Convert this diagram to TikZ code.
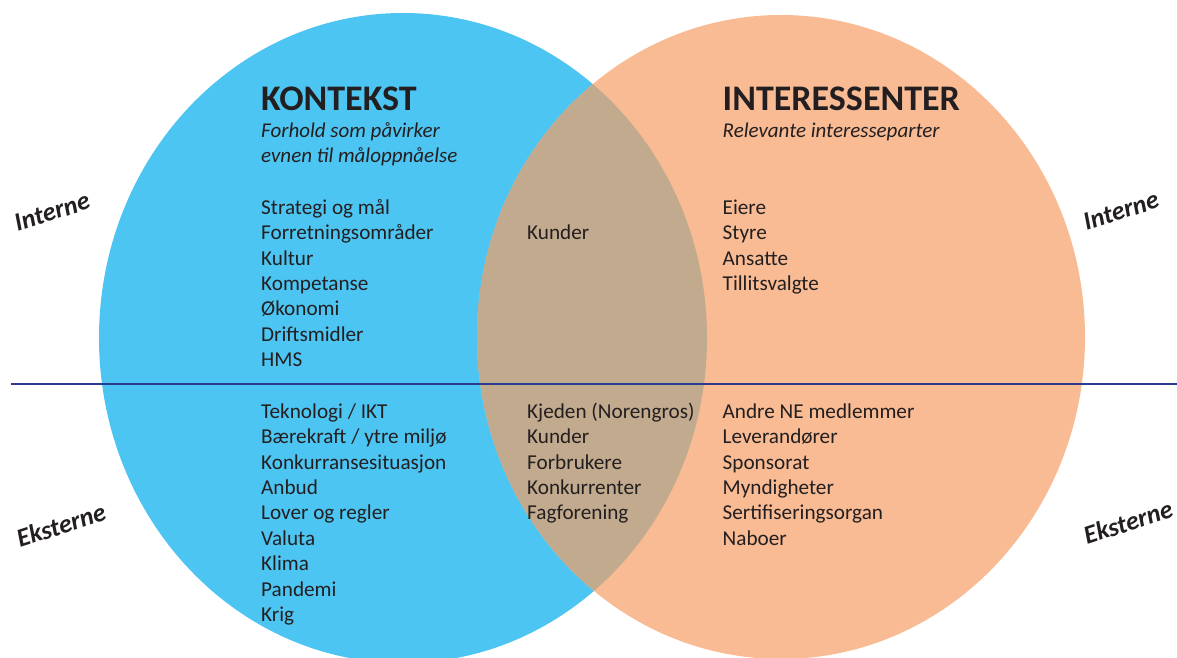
\documentclass[tikz,border=0pt]{standalone}
\usepackage{fontspec}
\setmainfont{Carlito}
\definecolor{kontekstblue}{HTML}{4DC5F2}
\definecolor{interessentorange}{HTML}{F8BB94}
\definecolor{overlapbrown}{HTML}{C2AA8E}
\definecolor{skillelinje}{HTML}{2B3A8F}
\definecolor{tekstgraa}{HTML}{231F20}
\begin{document}
\begin{tikzpicture}[x=1pt,y=-1pt,
	item/.style={anchor=base west,inner sep=0pt,text=tekstgraa,font=\fontsize{21.2}{25}\selectfont},
	heading/.style={item,font=\fontsize{36}{40}\selectfont\bfseries},
	subtitle/.style={item,font=\fontsize{21}{25}\selectfont\itshape},
	sidelabel/.style={inner sep=0pt,text=tekstgraa,rotate=18,font=\fontsize{26}{30}\selectfont\bfseries\itshape}]
	\useasboundingbox (0,0) rectangle (1177,658);
	% sirkler
	\fill[kontekstblue] (403,338) ellipse [x radius=304pt,y radius=325pt];
	\fill[interessentorange] (781,337) ellipse [x radius=304pt,y radius=322pt];
	\begin{scope}
		\clip (403,338) ellipse [x radius=304pt,y radius=325pt];
		\fill[overlapbrown] (781,337) ellipse [x radius=304pt,y radius=322pt];
	\end{scope}
	% skillelinje interne/eksterne
	\coordinate (linjestart) at (11,384);
	\coordinate (linjeslutt) at (1177,384);
	\draw[skillelinje,line width=2.5pt] (linjestart)--(linjeslutt);
	% overskrifter
	\node[heading] (kontekst) at (261,111) {KONTEKST};
	\node[subtitle] (kontekst-sub1) at (261,137.3) {Forhold som påvirker};
	\node[subtitle] (kontekst-sub2) at (261,162.6) {evnen til måloppnåelse};
	\node[heading] (interessenter) at (722.5,111) {INTERESSENTER};
	\node[subtitle] (interessenter-sub) at (722.5,137.3) {Relevante interesseparter};
	% interne
	\foreach \txt [count=\i from 0] in {Strategi og mål,Forretningsområder,Kultur,Kompetanse,Økonomi,Driftsmidler,HMS}
		\node[item] (kint-\i) at (261,214.3+25.35*\i) {\txt};
	\node[item] (kunder-int) at (527,239.6) {Kunder};
	\foreach \txt [count=\i from 0] in {Eiere,Styre,Ansatte,Tillitsvalgte}
		\node[item] (iint-\i) at (722.5,214.3+25.35*\i) {\txt};
	% eksterne
	\foreach \txt [count=\i from 0] in {{Teknologi / IKT},{Bærekraft / ytre miljø},Konkurransesituasjon,Anbud,Lover og regler,Valuta,Klima,Pandemi,Krig}
		\node[item] (kekst-\i) at (261,418.3+25.4*\i) {\txt};
	\foreach \txt [count=\i from 0] in {Kjeden (Norengros),Kunder,Forbrukere,Konkurrenter,Fagforening}
		\node[item] (felles-\i) at (527,418.3+25.4*\i) {\txt};
	\foreach \txt [count=\i from 0] in {Andre NE medlemmer,Leverandører,Sponsorat,Myndigheter,Sertifiseringsorgan,Naboer}
		\node[item] (iekst-\i) at (722.5,418.3+25.4*\i) {\txt};
	% sidetekster
	\node[sidelabel] (interne-v) at (52,212) {Interne};
	\node[sidelabel] (eksterne-v) at (61,525) {Eksterne};
	\node[sidelabel] (interne-h) at (1121,211) {Interne};
	\node[sidelabel] (eksterne-h) at (1128,522) {Eksterne};
\end{tikzpicture}
\end{document}
